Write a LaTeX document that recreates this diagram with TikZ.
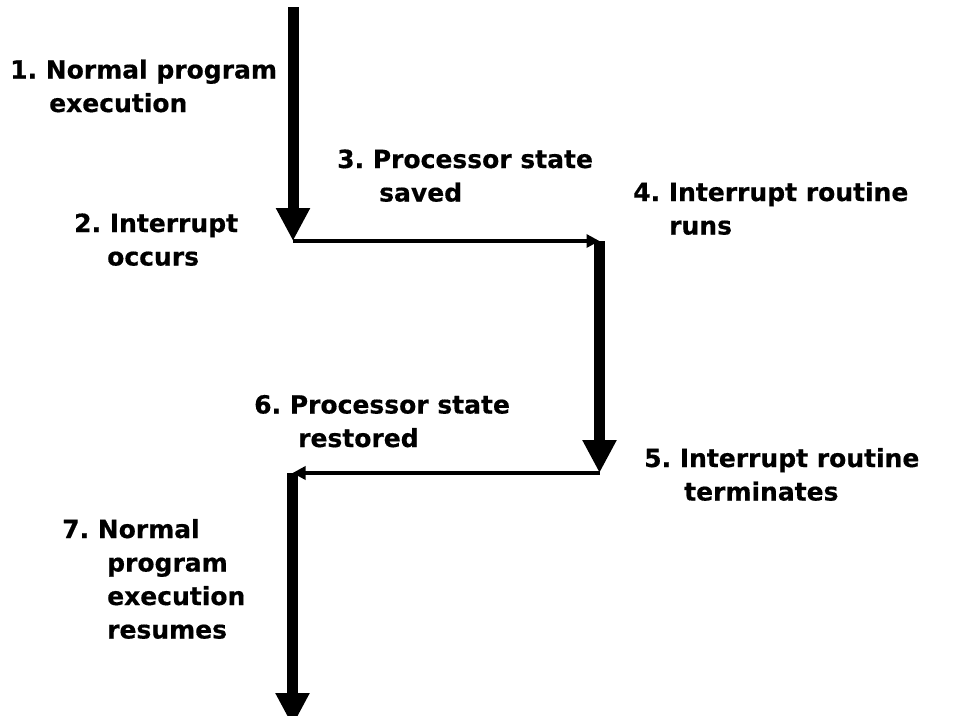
\documentclass[tikz,border=0pt]{standalone}
\usepackage{fontspec}
\setmainfont{DejaVu Sans}
\newfontfamily\heavyfont[FakeBold=0.5]{DejaVu Sans Bold}
\usetikzlibrary{arrows.meta}
\frenchspacing
\begin{document}
\begin{tikzpicture}[x=1pt,y=-1pt,
  flow/.style={line width=11pt,-{Triangle[length=33pt,width=32pt]}},
  jump/.style={line width=3.5pt,-{Triangle[length=13pt,width=13pt]}},
  lbl/.style={anchor=base west,inner sep=0pt,align=left,
    font=\heavyfont\fontsize{25}{33.5}\selectfont\frenchspacing}]
\useasboundingbox[fill=white] (0,0) rectangle (961,715);
\clip (0,0) rectangle (961,715);
\coordinate (a0) at (293,7);
\coordinate (a1) at (293,241);
\coordinate (b) at (599.5,241);
\coordinate (b1) at (599.5,473);
\coordinate (c) at (292.5,473);
\coordinate (c1) at (292.5,726);
\draw[flow] (a0) -- (a1);
\draw[jump] (a1) -- (b);
\draw[flow] (b) -- (b1);
\draw[jump] (b1) -- (c);
\draw[flow] (c) -- (c1);
% base anchor of a multi-line node lies on its last line
\node[lbl] (t1) at (10,112) {1. Normal program\\\hspace*{39pt}execution};
\node[lbl] (t2) at (74,265.5) {2. Interrupt\\\hspace*{33pt}occurs};
\node[lbl] (t3) at (337,201.5) {3. Processor state\\\hspace*{42pt}saved};
\node[lbl] (t4) at (633,234.5) {4. Interrupt routine\\\hspace*{36pt}runs};
\node[lbl] (t6) at (254,447) {6. Processor state\\\hspace*{44pt}restored};
\node[lbl] (t5) at (644,500.5) {5. Interrupt routine\\\hspace*{40pt}terminates};
\node[lbl] (t7) at (62,638.5) {7. Normal\\\hspace*{45pt}program\\\hspace*{45pt}execution\\\hspace*{45pt}resumes};
\end{tikzpicture}
\end{document}
